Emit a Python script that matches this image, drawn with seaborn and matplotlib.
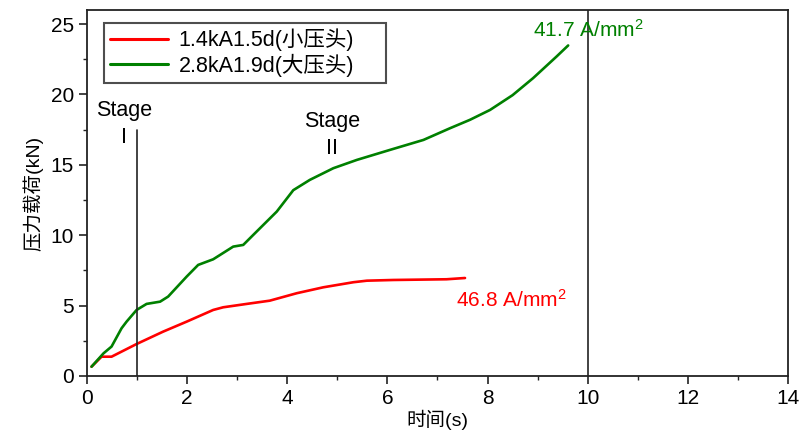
import pandas as pd
import matplotlib
matplotlib.use('Agg')
import matplotlib.pyplot as plt
from matplotlib.ticker import MultipleLocator
import seaborn as sns

# values
small_t = [0.09, 0.29, 0.49, 0.99, 1.52, 1.99, 2.52, 2.72, 3.19, 3.65, 4.19, 4.72, 5.32, 5.59, 6.12, 7.18, 7.55]
small_f = [0.66, 1.37, 1.37, 2.27, 3.15, 3.86, 4.69, 4.88, 5.12, 5.35, 5.88, 6.30, 6.66, 6.77, 6.82, 6.87, 6.96]

big_t = [0.09, 0.33, 0.49, 0.69, 0.79, 0.99, 1.19, 1.46, 1.62, 1.99, 2.22, 2.52, 2.92, 3.12, 3.32,
         3.79, 4.12, 4.45, 4.92, 5.39, 6.05, 6.72, 7.25, 7.65, 8.05, 8.5, 8.91, 9.38, 9.61]
big_f = [0.66, 1.61, 2.09, 3.39, 3.86, 4.69, 5.12, 5.28, 5.64, 7.06, 7.89, 8.29, 9.19, 9.31, 10.02,
         11.68, 13.2, 13.93, 14.76, 15.35, 16.06, 16.77, 17.6, 18.2, 18.9, 19.95, 21.16, 22.7, 23.48]

series_names = ['1.4kA1.5d(小压头)', '2.8kA1.9d(大压头)']
series_colors = ['#ff0000', '#008000']

df = pd.concat([
    pd.DataFrame({'t': small_t, 'f': small_f, 'name': series_names[0]}),
    pd.DataFrame({'t': big_t, 'f': big_f, 'name': series_names[1]}),
])

sns.set_theme(style='ticks')
plt.rcParams['font.family'] = ['Liberation Sans', 'Noto Sans CJK SC']
plt.rcParams['axes.unicode_minus'] = False
plt.rcParams['text.color'] = 'black'
plt.rcParams['axes.labelcolor'] = 'black'
plt.rcParams['xtick.color'] = 'black'
plt.rcParams['ytick.color'] = 'black'
plt.rcParams['mathtext.fontset'] = 'custom'
plt.rcParams['mathtext.rm'] = 'Liberation Sans'
plt.rcParams['mathtext.it'] = 'Liberation Sans'

fs = 15.5

fig = plt.figure(figsize=(8.08, 4.38), dpi=100)
ax = fig.add_axes([0.1077, 0.1416, 0.8675, 0.8356])

sns.lineplot(data=df, x='t', y='f', hue='name', palette=series_colors,
             linewidth=1.9, sort=False, estimator=None, ax=ax)

# stage markers
ax.plot([1, 1], [0, 17.5], color='#222222', linewidth=1.2)
ax.axvline(10, color='#222222', linewidth=1.2)
ax.text(0.74, 17.9, 'Stage\nI', ha='center', va='center', fontsize=fs, linespacing=1.4)
ax.text(4.9, 17.1, 'Stage\nII', ha='center', va='center', fontsize=fs, linespacing=1.4)

ax.text(8.9, 24.6, r'41.7 A/mm$^\mathregular{2}$', color='#008000', fontsize=15, va='center')
ax.text(7.37, 5.4, r'46.8 A/mm$^\mathregular{2}$', color='#ff0000', fontsize=15, va='center')

ax.set_xlim(0, 14)
ax.set_ylim(0, 26)
ax.xaxis.set_major_locator(MultipleLocator(2))
ax.xaxis.set_minor_locator(MultipleLocator(1))
ax.yaxis.set_major_locator(MultipleLocator(5))
ax.yaxis.set_minor_locator(MultipleLocator(2.5))
ax.tick_params(which='major', direction='out', length=6, width=1.2, labelsize=15, color='#222222')
ax.tick_params(which='minor', direction='out', length=3, width=1.0, color='#222222')
for s in ax.spines.values():
    s.set_linewidth(1.3)
    s.set_color('#222222')

ax.set_xlabel('时间(s)', fontsize=14, labelpad=1)
ax.set_ylabel('压力载荷(kN)', fontsize=14, labelpad=5)

leg = ax.legend(loc='upper left', bbox_to_anchor=(0.024, 0.965, 0.402, 0), mode='expand',
                borderaxespad=0, fontsize=fs, title=None, fancybox=False, frameon=True,
                handlelength=2.7, handletextpad=0.5, labelspacing=0.1, borderpad=0.28)
leg.get_frame().set_edgecolor('#222222')
leg.get_frame().set_linewidth(1.5)
for line in leg.get_lines():
    line.set_linewidth(2.2)

plt.savefig('out.png', dpi=100)
